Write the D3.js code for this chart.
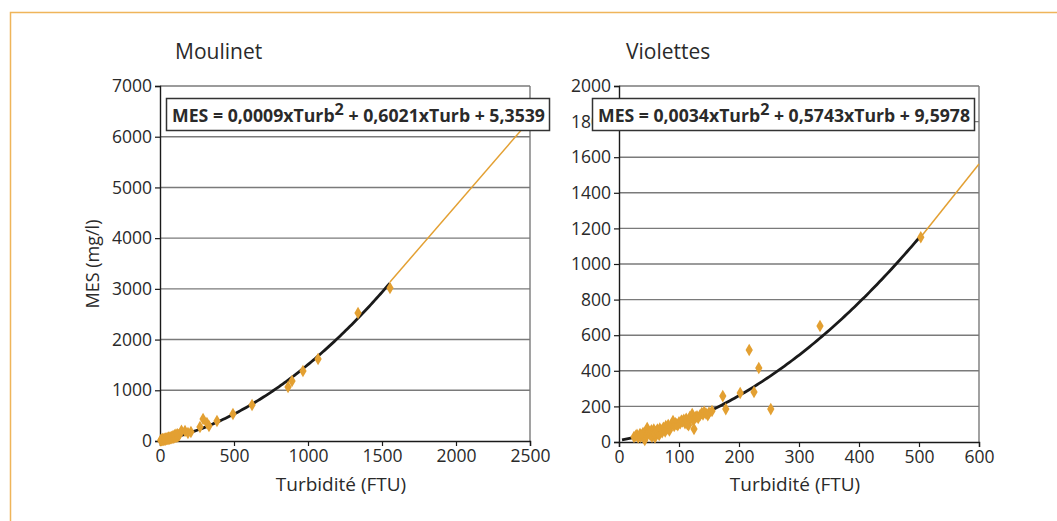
<!DOCTYPE html>
<html><head><meta charset="utf-8">
<script src="https://cdn.jsdelivr.net/npm/d3@7/dist/d3.min.js"></script>
<style>
html,body{margin:0;padding:0;background:#fff;}
svg text{font-family:"Open Sans","DejaVu Sans",sans-serif;fill:#2a2a2a;}
</style></head>
<body>
<svg id="c" width="1057" height="521"></svg>
<script>
// ---------- DATA ----------
const titles = ["Moulinet", "Violettes"];
const xTitle = "Turbidité (FTU)";
const yTitle = "MES (mg/l)";

// Moulinet
const mouTurb = [5,10,15,20,25,30,35,40,45,50,55,60,65,70,75,80,85,90,95,100,105,110,115,120,125,130,8,18,28,38,48,58,68,78,88,98,108,118,145,169,189,209,270,291,317,331,385,493,622,865,892,966,1068,1338,1554];
const mouMES  = [10,15,20,25,22,30,28,35,40,45,42,50,48,55,60,58,70,65,80,75,90,85,100,95,110,120,30,40,45,50,60,70,75,80,95,110,125,130,200,197,158,178,276,434,355,296,394,532,710,1065,1183,1380,1617,2525,3018];
const mouCoef = [0.0009, 0.6021, 5.3539];
const mouFitRange = [0, 1554];
const mouExtTurb = [1554, 2500];
const mouExtMES  = [3136, 6330];
const mouXTicks = [0,500,1000,1500,2000,2500];
const mouYTicks = [0,1000,2000,3000,4000,5000,6000,7000];
const mouEq = ["MES = 0,0009xTurb", "2", " + 0,6021xTurb + 5,3539"];

// Violettes
const vioTurb = [25,28,30,32,35,36,38,40,42,43,45,46,47,48,50,52,54,55,57,58,60,60,62,64,65,67,68,70,72,74,75,77,78,80,82,84,86,88,90,92,94,96,98,100,102,104,106,108,110,112,114,116,118,120,122,124,125,128,130,132,135,138,140,142,145,148,150,155,173,178,202,217,225,233,253,335,503];
const vioMES  = [28,35,40,25,45,30,38,50,20,11,60,35,79,45,55,40,65,30,50,70,25,45,60,70,50,40,75,65,55,80,70,60,90,75,95,65,85,100,118,90,105,100,95,110,105,120,115,125,105,130,100,95,140,135,157,120,73,140,145,135,150,163,155,170,160,150,165,174,258,185,275,517,281,416,185,652,1150];
const vioCoef = [0.0034, 0.5743, 9.5978];
const vioFitRange = [5, 505];
const vioExtTurb = [505, 600];
const vioExtMES  = [1160, 1562];
const vioXTicks = [0,100,200,300,400,500,600];
const vioYTicks = [0,200,400,600,800,1000,1200,1400,1600,1800,2000];
const vioEq = ["MES = 0,0034xTurb", "2", " + 0,5743xTurb + 9,5978"];

// ---------- DRAW ----------
const svg = d3.select("#c");
const ORANGE = "#e3a032";
const GRID = "#7a7a7a";

// outer frame (top + left)
svg.append("path").attr("d","M10.5,521 L10.5,12.5 L1057,12.5")
  .attr("fill","none").attr("stroke","#efb55a").attr("stroke-width",1.5);

function panel(cfg){
  const x = d3.scaleLinear().domain(cfg.xDom).range(cfg.xR);
  const y = d3.scaleLinear().domain(cfg.yDom).range(cfg.yR);
  const g = svg.append("g");
  const [x0,x1] = cfg.xR, [y0,y1] = cfg.yR;

  // grid
  g.selectAll(".gl").data(cfg.yTicks.slice(1)).join("line")
    .attr("x1",x0).attr("x2",x1).attr("y1",d=>y(d)).attr("y2",d=>y(d))
    .attr("stroke",GRID).attr("stroke-width",1.4);
  // right border
  g.append("line").attr("x1",x1).attr("x2",x1).attr("y1",y0).attr("y2",y1)
    .attr("stroke",GRID).attr("stroke-width",1.4);

  // axes
  const ya = g.append("g").attr("transform",`translate(${x0},0)`)
    .call(d3.axisLeft(y).tickValues(cfg.yTicks).tickSize(5).tickPadding(3).tickFormat(d3.format("d")));
  const xa = g.append("g").attr("transform",`translate(0,${y0})`)
    .call(d3.axisBottom(x).tickValues(cfg.xTicks).tickSize(5).tickPadding(2).tickFormat(d3.format("d")));
  [ya,xa].forEach(a=>{
    a.select(".domain").attr("stroke","#1a1a1a").attr("stroke-width",1.4);
    a.selectAll(".tick line").attr("stroke","#1a1a1a").attr("stroke-width",1.2);
    a.selectAll("text").style("font-size","17.5px").attr("fill","#2a2a2a")
      .style("font-family",'"Open Sans","DejaVu Sans",sans-serif');
  });
  xa.selectAll("text").attr("dy","0.8em");

  // extrapolated orange line
  g.append("path").datum(d3.zip(cfg.extT,cfg.extM))
    .attr("d",d3.line().x(d=>x(d[0])).y(d=>y(d[1])))
    .attr("fill","none").attr("stroke",ORANGE).attr("stroke-width",1.5);

  // fit curve
  const [a,b,c] = cfg.coef;
  const fx = d3.range(cfg.fit[0], cfg.fit[1]+0.001, (cfg.fit[1]-cfg.fit[0])/120);
  g.append("path").datum(fx.map(t=>[t,a*t*t+b*t+c]))
    .attr("d",d3.line().x(d=>x(d[0])).y(d=>y(d[1])))
    .attr("fill","none").attr("stroke","#1a1a1a").attr("stroke-width",2.8);

  // points
  const sym = d3.symbol().type(d3.symbolDiamond).size(46);
  g.selectAll(".pt").data(d3.zip(cfg.turb,cfg.mes)).join("path")
    .attr("d",sym).attr("transform",d=>`translate(${x(d[0])},${y(d[1])})`)
    .attr("fill",ORANGE);

  // equation box
  const bx = cfg.box;
  g.append("rect").attr("x",bx[0]+0.5).attr("y",bx[1]+0.5).attr("width",bx[2]).attr("height",bx[3])
    .attr("fill","#fff").attr("stroke","#333").attr("stroke-width",1.5);
  const t = g.append("text").attr("x",bx[0]+6).attr("y",bx[1]+24)
    .style("font-weight","bold").style("font-size","17.5px");
  t.append("tspan").text(cfg.eq[0]);
  t.append("tspan").text(cfg.eq[1]).attr("dy",-7).style("font-size","16px");
  t.append("tspan").text(cfg.eq[2]).attr("dy",7);
  t.attr("textLength",bx[2]-10).attr("lengthAdjust","spacingAndGlyphs");

  // titles
  g.append("text").attr("x",cfg.titleX).attr("y",59).text(cfg.title).style("font-size","21px");
  g.append("text").attr("x",(x0+x1)/2 - 4).attr("y",491).attr("text-anchor","middle")
    .text(xTitle).style("font-size","19px");
  return {x,y};
}

panel({xDom:[0,2500], yDom:[0,7000], xR:[160,530], yR:[441,86],
  xTicks:mouXTicks, yTicks:mouYTicks, turb:mouTurb, mes:mouMES, coef:mouCoef,
  fit:mouFitRange, extT:mouExtTurb, extM:mouExtMES, eq:mouEq,
  box:[166,98,383,32], title:titles[0], titleX:175});

panel({xDom:[0,600], yDom:[0,2000], xR:[619,979], yR:[442,86],
  xTicks:vioXTicks, yTicks:vioYTicks, turb:vioTurb, mes:vioMES, coef:vioCoef,
  fit:vioFitRange, extT:vioExtTurb, extM:vioExtMES, eq:vioEq,
  box:[592,98,382,32], title:titles[1], titleX:626});

// y title (Moulinet)
svg.append("text").attr("transform","translate(99,264) rotate(-90)")
  .attr("text-anchor","middle").text(yTitle).style("font-size","18px");
</script>
</body></html>
